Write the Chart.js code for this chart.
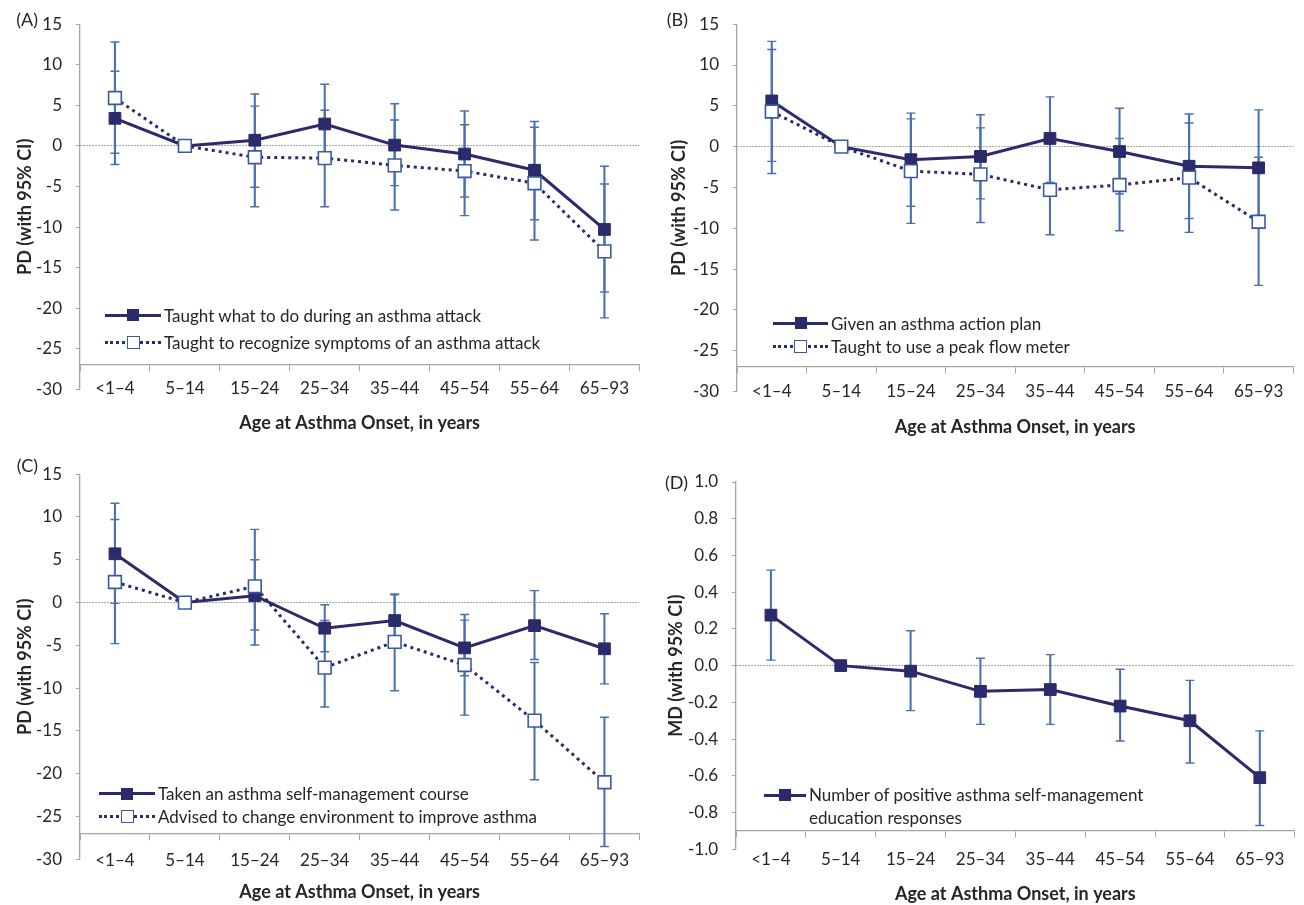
<!DOCTYPE html>
<html>
<head>
<meta charset="utf-8">
<script src="https://cdn.jsdelivr.net/npm/chart.js@4.4.1/dist/chart.umd.min.js"></script>
<style>
  body { margin: 0; background: #fff; width: 1304px; height: 905px; position: relative; overflow: hidden; font-family: Lato, sans-serif; color: #262626; }
  canvas { position: absolute; }
  .tag { position: absolute; width: 40px; text-align: right; font-size: 18px; line-height: 20px; }
  .legend { position: absolute; font-size: 17px; }
  .legend .row { display: flex; align-items: center; white-space: nowrap; }
  .sample { position: relative; display: inline-block; height: 14px; margin-right: 3px; flex: none; }
  .sample .ln { position: absolute; left: 0; right: 0; top: 5.5px; border-top: 3px solid #2b2a6b; }
  .sample .ln.dot { border-top-style: dotted; }
  .sample .sq { position: absolute; left: 50%; top: 1px; width: 12px; height: 12px; margin-left: -6px; background: #2b2a6b; box-sizing: border-box; }
  .sample .sq.open { background: #fff; border: 1.6px solid #3a5aa0; top: 0.5px; width: 13px; height: 13px; margin-left: -6.5px; }
</style>
</head>
<body>
<canvas id="chartA" width="650" height="450" style="left:0;top:0"></canvas>
<canvas id="chartB" width="654" height="450" style="left:650px;top:0"></canvas>
<canvas id="chartC" width="650" height="455" style="left:0;top:450px"></canvas>
<canvas id="chartD" width="654" height="455" style="left:650px;top:450px"></canvas>

<div class="tag" style="left:-2px;top:9px">(A)</div>
<div class="tag" style="left:648px;top:9px">(B)</div>
<div class="tag" style="left:-2px;top:455px">(C)</div>
<div class="tag" style="left:648px;top:472px">(D)</div>

<div class="legend" style="left:105px;top:302px">
  <div class="row" style="height:26.7px"><span class="sample" style="width:56px"><span class="ln"></span><span class="sq"></span></span>Taught what to do during an asthma attack</div>
  <div class="row" style="height:26.7px"><span class="sample" style="width:56px"><span class="ln dot"></span><span class="sq open"></span></span>Taught to recognize symptoms of an asthma attack</div>
</div>
<div class="legend" style="left:773px;top:312px">
  <div class="row" style="height:22.7px"><span class="sample" style="width:55px"><span class="ln"></span><span class="sq"></span></span>Given an asthma action plan</div>
  <div class="row" style="height:22.7px"><span class="sample" style="width:55px"><span class="ln dot"></span><span class="sq open"></span></span>Taught to use a peak flow meter</div>
</div>
<div class="legend" style="left:99px;top:782px">
  <div class="row" style="height:23.3px"><span class="sample" style="width:56px"><span class="ln"></span><span class="sq"></span></span>Taken an asthma self-management course</div>
  <div class="row" style="height:23.3px"><span class="sample" style="width:56px"><span class="ln dot"></span><span class="sq open"></span></span>Advised to change environment to improve asthma</div>
</div>
<div class="legend" style="left:764px;top:783px">
  <div class="row" style="align-items:flex-start;line-height:23px"><span class="sample" style="width:42px;margin-top:5px"><span class="ln"></span><span class="sq"></span></span><span>Number of positive asthma self-management<br>education responses</span></div>
</div>

<script>
const ageGroups = ['<1–4', '5–14', '15–24', '25–34', '35–44', '45–54', '55–64', '65–93']

// (A)
const attackPD = [3.4, 0, 0.7, 2.7, 0.1, -1.0, -3.0, -10.3]
const attackLow = [-2.3, null, -5.1, -2.0, -4.9, -6.3, -9.1, -18.0]
const attackHigh = [9.2, null, 6.4, 7.6, 5.2, 4.3, 3.0, -2.5]
const symptomsPD = [5.9, 0, -1.4, -1.5, -2.4, -3.1, -4.6, -13.0]
const symptomsLow = [-0.9, null, -7.5, -7.5, -7.9, -8.6, -11.6, -21.2]
const symptomsHigh = [12.8, null, 4.9, 4.4, 3.2, 2.6, 2.3, -4.7]

// (B)
const actionPlanPD = [5.6, 0, -1.6, -1.2, 1.0, -0.6, -2.4, -2.6]
const actionPlanLow = [-1.8, null, -7.3, -6.4, -4.4, -5.8, -8.8, -9.6]
const actionPlanHigh = [12.9, null, 4.1, 3.9, 6.1, 4.7, 4.0, 4.5]
const peakFlowPD = [4.3, 0, -3.0, -3.4, -5.3, -4.7, -3.8, -9.2]
const peakFlowLow = [-3.3, null, -9.4, -9.3, -10.8, -10.3, -10.5, -17.0]
const peakFlowHigh = [11.9, null, 3.4, 2.3, 0.5, 1.0, 2.9, -1.3]

// (C)
const coursePD = [5.7, 0, 0.8, -3.0, -2.1, -5.3, -2.7, -5.4]
const courseLow = [-0.1, null, -3.2, -5.75, -5.2, -8.55, -6.65, -9.5]
const courseHigh = [11.6, null, 5.0, -0.25, 1.0, -2.05, 1.4, -1.3]
const environmentPD = [2.4, 0, 1.9, -7.6, -4.6, -7.3, -13.8, -21.0]
const environmentLow = [-4.8, null, -4.95, -12.2, -10.3, -13.15, -20.7, -28.5]
const environmentHigh = [9.7, null, 8.55, -2.1, 0.9, -1.4, -7.0, -13.4]

// (D)
const responsesMD = [0.275, 0, -0.03, -0.14, -0.13, -0.22, -0.30, -0.61]
const responsesLow = [0.03, null, -0.245, -0.32, -0.32, -0.41, -0.53, -0.87]
const responsesHigh = [0.52, null, 0.19, 0.04, 0.06, -0.02, -0.08, -0.355]

const NAVY = '#2b2a6b'
const OPEN_BLUE = '#3a5aa0'
const CI_BLUE = '#4a70b0'
const AXIS_GRAY = '#a6a6a6'
const TEXT = '#262626'
const FONT = 'Lato'

function ciPairs(lows, highs) {
    return lows.map((lo, i) => lo === null ? null : [lo, highs[i]])
}

function seriesSets(label, values, lows, highs, filled) {
    const caps = {
        type: 'line', showLine: false, pointStyle: 'line', pointRadius: 4.5,
        pointBorderColor: CI_BLUE, pointBorderWidth: 1.4, order: 4
    }
    return [
        {
            type: 'line', label: label, data: values,
            borderColor: NAVY, borderWidth: 3,
            borderDash: filled ? [] : [3, 4],
            pointStyle: 'rect',
            pointRadius: filled ? 8.3 : 9,
            pointBackgroundColor: filled ? NAVY : '#fff',
            pointBorderColor: filled ? NAVY : OPEN_BLUE,
            pointBorderWidth: filled ? 1 : 1.6,
            order: filled ? 1 : 0
        },
        {
            type: 'bar', data: ciPairs(lows, highs),
            backgroundColor: CI_BLUE, barThickness: 1.4, grouped: false, order: 5
        },
        Object.assign({ data: lows }, caps),
        Object.assign({ data: highs }, caps)
    ]
}

function makeChart(id, datasets, cfg) {
    new Chart(document.getElementById(id), {
        data: { labels: ageGroups, datasets: datasets },
        options: {
            responsive: false,
            animation: false,
            events: [],
            layout: { padding: cfg.padding },
            plugins: { legend: { display: false }, tooltip: { enabled: false } },
            scales: {
                x: {
                    type: 'category',
                    offset: true,
                    position: { y: cfg.cross },
                    grid: { offset: true, drawOnChartArea: false, drawTicks: true, tickLength: 6, color: AXIS_GRAY, tickColor: AXIS_GRAY },
                    border: { color: AXIS_GRAY, width: 1.3 },
                    ticks: { padding: cfg.labelPad, color: TEXT, font: { family: FONT, size: 17 } },
                    title: {
                        display: true, text: 'Age at Asthma Onset, in years', color: TEXT,
                        font: { family: FONT, size: 18, weight: 'bold' },
                        padding: { top: cfg.titlePad, bottom: 0 }
                    }
                },
                y: {
                    min: cfg.min, max: cfg.max,
                    afterFit: function (scale) { scale.width = cfg.yWidth },
                    ticks: {
                        stepSize: cfg.step, padding: 14, color: TEXT,
                        font: { family: FONT, size: 17 },
                        callback: cfg.fmt
                    },
                    grid: {
                        // only the zero line is drawn across the plot
                        color: (ctx) => ctx.tick && Math.abs(ctx.tick.value) < 1e-9 ? '#8a8a8a' : 'rgba(0,0,0,0)',
                        lineWidth: 1, tickWidth: 1, tickLength: 4, tickColor: AXIS_GRAY
                    },
                    border: { color: AXIS_GRAY, width: 1.3, dash: [1.5, 1.5] },
                    title: {
                        display: true, text: cfg.yTitle, color: TEXT,
                        font: { family: FONT, size: 18, weight: 'bold' },
                        padding: { top: cfg.yTitlePad, bottom: 0 }
                    }
                }
            }
        }
    })
}

const pdFmt = (v) => v
const mdFmt = (v) => Number(v).toFixed(1)

makeChart('chartA',
    seriesSets('Taught what to do during an asthma attack', attackPD, attackLow, attackHigh, true)
        .concat(seriesSets('Taught to recognize symptoms of an asthma attack', symptomsPD, symptomsLow, symptomsHigh, false)),
    { min: -30, max: 15, step: 5, cross: -27, fmt: pdFmt, yTitle: 'PD (with 95% CI)',
      yWidth: 80, yTitlePad: 14, labelPad: 7.8, titlePad: 5.2,
      padding: { left: 0, top: 19, right: 10, bottom: 60.7 } })

makeChart('chartB',
    seriesSets('Given an asthma action plan', actionPlanPD, actionPlanLow, actionPlanHigh, true)
        .concat(seriesSets('Taught to use a peak flow meter', peakFlowPD, peakFlowLow, peakFlowHigh, false)),
    { min: -30, max: 15, step: 5, cross: -27, fmt: pdFmt, yTitle: 'PD (with 95% CI)',
      yWidth: 87, yTitlePad: 18, labelPad: 8.8, titlePad: 5.2,
      padding: { left: 0, top: 19, right: 9, bottom: 58.5 } })

makeChart('chartC',
    seriesSets('Taken an asthma self-management course', coursePD, courseLow, courseHigh, true)
        .concat(seriesSets('Advised to change environment to improve asthma', environmentPD, environmentLow, environmentHigh, false)),
    { min: -30, max: 15, step: 5, cross: -27, fmt: pdFmt, yTitle: 'PD (with 95% CI)',
      yWidth: 80, yTitlePad: 14, labelPad: 10.8, titlePad: 0,
      padding: { left: 0, top: 14, right: 10, bottom: 45.7 } })

makeChart('chartD',
    seriesSets('Number of positive asthma self-management education responses', responsesMD, responsesLow, responsesHigh, true),
    { min: -1, max: 1, step: 0.2, cross: -0.9, fmt: mdFmt, yTitle: 'MD (with 95% CI)',
      yWidth: 86, yTitlePad: 15, labelPad: 12.8, titlePad: 0,
      padding: { left: 0, top: 32, right: 9, bottom: 55.7 } })
</script>
</body>
</html>
